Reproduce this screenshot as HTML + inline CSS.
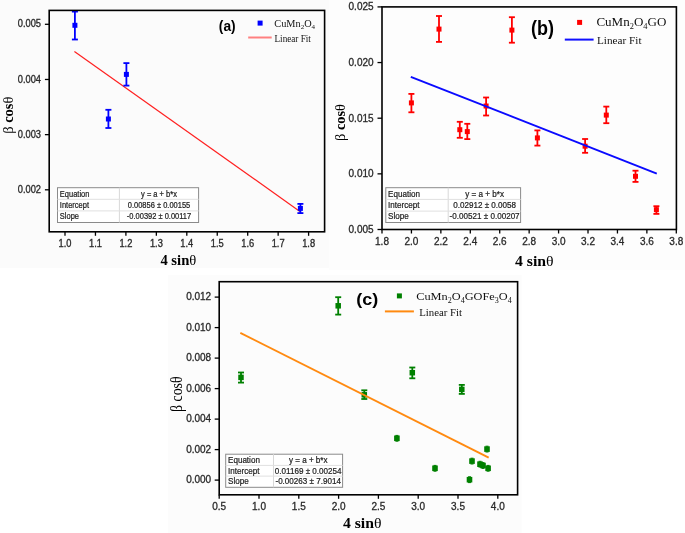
<!DOCTYPE html>
<html><head><meta charset="utf-8"><style>
html,body{margin:0;padding:0;background:#fff;}
body{width:685px;height:533px;overflow:hidden;}
svg{display:block;will-change:transform;}
</style></head><body>
<svg width="685" height="533" viewBox="0 0 685 533">
<rect x="0" y="0" width="685" height="533" fill="#ffffff"/>
<rect x="0" y="0" width="329" height="268" fill="#fbfbfb"/>
<rect x="329" y="0" width="356" height="270" fill="#fdfdfd"/>
<rect x="168" y="275" width="353.5" height="258" fill="#fcfcfc"/>
<line x1="65" y1="231.8" x2="65" y2="235.8" stroke="#000" stroke-width="1.3"/>
<text transform="translate(65,246.7) scale(1,1.12)" x="0" y="0" font-family='"Liberation Sans", sans-serif' font-size="9.3" font-weight="normal" fill="#2a2a2a" text-anchor="middle" stroke="#2a2a2a" stroke-width="0.3">1.0</text>
<line x1="95.45" y1="231.8" x2="95.45" y2="235.8" stroke="#000" stroke-width="1.3"/>
<text transform="translate(95.45,246.7) scale(1,1.12)" x="0" y="0" font-family='"Liberation Sans", sans-serif' font-size="9.3" font-weight="normal" fill="#2a2a2a" text-anchor="middle" stroke="#2a2a2a" stroke-width="0.3">1.1</text>
<line x1="125.9" y1="231.8" x2="125.9" y2="235.8" stroke="#000" stroke-width="1.3"/>
<text transform="translate(125.9,246.7) scale(1,1.12)" x="0" y="0" font-family='"Liberation Sans", sans-serif' font-size="9.3" font-weight="normal" fill="#2a2a2a" text-anchor="middle" stroke="#2a2a2a" stroke-width="0.3">1.2</text>
<line x1="156.35" y1="231.8" x2="156.35" y2="235.8" stroke="#000" stroke-width="1.3"/>
<text transform="translate(156.35,246.7) scale(1,1.12)" x="0" y="0" font-family='"Liberation Sans", sans-serif' font-size="9.3" font-weight="normal" fill="#2a2a2a" text-anchor="middle" stroke="#2a2a2a" stroke-width="0.3">1.3</text>
<line x1="186.8" y1="231.8" x2="186.8" y2="235.8" stroke="#000" stroke-width="1.3"/>
<text transform="translate(186.8,246.7) scale(1,1.12)" x="0" y="0" font-family='"Liberation Sans", sans-serif' font-size="9.3" font-weight="normal" fill="#2a2a2a" text-anchor="middle" stroke="#2a2a2a" stroke-width="0.3">1.4</text>
<line x1="217.25" y1="231.8" x2="217.25" y2="235.8" stroke="#000" stroke-width="1.3"/>
<text transform="translate(217.25,246.7) scale(1,1.12)" x="0" y="0" font-family='"Liberation Sans", sans-serif' font-size="9.3" font-weight="normal" fill="#2a2a2a" text-anchor="middle" stroke="#2a2a2a" stroke-width="0.3">1.5</text>
<line x1="247.7" y1="231.8" x2="247.7" y2="235.8" stroke="#000" stroke-width="1.3"/>
<text transform="translate(247.7,246.7) scale(1,1.12)" x="0" y="0" font-family='"Liberation Sans", sans-serif' font-size="9.3" font-weight="normal" fill="#2a2a2a" text-anchor="middle" stroke="#2a2a2a" stroke-width="0.3">1.6</text>
<line x1="278.15" y1="231.8" x2="278.15" y2="235.8" stroke="#000" stroke-width="1.3"/>
<text transform="translate(278.15,246.7) scale(1,1.12)" x="0" y="0" font-family='"Liberation Sans", sans-serif' font-size="9.3" font-weight="normal" fill="#2a2a2a" text-anchor="middle" stroke="#2a2a2a" stroke-width="0.3">1.7</text>
<line x1="308.6" y1="231.8" x2="308.6" y2="235.8" stroke="#000" stroke-width="1.3"/>
<text transform="translate(308.6,246.7) scale(1,1.12)" x="0" y="0" font-family='"Liberation Sans", sans-serif' font-size="9.3" font-weight="normal" fill="#2a2a2a" text-anchor="middle" stroke="#2a2a2a" stroke-width="0.3">1.8</text>
<line x1="44.9" y1="189.81" x2="49.2" y2="189.81" stroke="#000" stroke-width="1.3"/>
<text transform="translate(41,192.84) scale(1,1.12)" x="0" y="0" font-family='"Liberation Sans", sans-serif' font-size="9.3" font-weight="normal" fill="#2a2a2a" text-anchor="end" stroke="#2a2a2a" stroke-width="0.3">0.002</text>
<line x1="44.9" y1="134.64" x2="49.2" y2="134.64" stroke="#000" stroke-width="1.3"/>
<text transform="translate(41,137.67) scale(1,1.12)" x="0" y="0" font-family='"Liberation Sans", sans-serif' font-size="9.3" font-weight="normal" fill="#2a2a2a" text-anchor="end" stroke="#2a2a2a" stroke-width="0.3">0.003</text>
<line x1="44.9" y1="79.47" x2="49.2" y2="79.47" stroke="#000" stroke-width="1.3"/>
<text transform="translate(41,82.5) scale(1,1.12)" x="0" y="0" font-family='"Liberation Sans", sans-serif' font-size="9.3" font-weight="normal" fill="#2a2a2a" text-anchor="end" stroke="#2a2a2a" stroke-width="0.3">0.004</text>
<line x1="44.9" y1="24.3" x2="49.2" y2="24.3" stroke="#000" stroke-width="1.3"/>
<text transform="translate(41,27.33) scale(1,1.12)" x="0" y="0" font-family='"Liberation Sans", sans-serif' font-size="9.3" font-weight="normal" fill="#2a2a2a" text-anchor="end" stroke="#2a2a2a" stroke-width="0.3">0.005</text>
<rect x="57.5" y="187.7" width="141.1" height="34.8" fill="#fff" stroke="#8a8a8a" stroke-width="1"/>
<line x1="119.4" y1="187.7" x2="119.4" y2="222.5" stroke="#d8d8d8" stroke-width="1"/>
<line x1="57.5" y1="199.3" x2="198.6" y2="199.3" stroke="#e0e0e0" stroke-width="1"/>
<line x1="57.5" y1="210.9" x2="198.6" y2="210.9" stroke="#e0e0e0" stroke-width="1"/>
<text transform="translate(59.8,196.5) scale(1,1.15)" x="0" y="0" font-family='"Liberation Sans", sans-serif' font-size="7.5" font-weight="normal" fill="#222" text-anchor="start" stroke="#222" stroke-width="0.2">Equation</text>
<text transform="translate(159,196.5) scale(1,1.15)" x="0" y="0" font-family='"Liberation Sans", sans-serif' font-size="7.5" font-weight="normal" fill="#222" text-anchor="middle" stroke="#222" stroke-width="0.2">y = a + b*x</text>
<text transform="translate(59.8,208.05) scale(1,1.15)" x="0" y="0" font-family='"Liberation Sans", sans-serif' font-size="7.5" font-weight="normal" fill="#222" text-anchor="start" stroke="#222" stroke-width="0.2">Intercept</text>
<text transform="translate(159,208.05) scale(1,1.15)" x="0" y="0" font-family='"Liberation Sans", sans-serif' font-size="7.5" font-weight="normal" fill="#222" text-anchor="middle" stroke="#222" stroke-width="0.2">0.00856 ± 0.00155</text>
<text transform="translate(59.8,219.1) scale(1,1.15)" x="0" y="0" font-family='"Liberation Sans", sans-serif' font-size="7.5" font-weight="normal" fill="#222" text-anchor="start" stroke="#222" stroke-width="0.2">Slope</text>
<text transform="translate(159,219.1) scale(1,1.15)" x="0" y="0" font-family='"Liberation Sans", sans-serif' font-size="7.5" font-weight="normal" fill="#222" text-anchor="middle" stroke="#222" stroke-width="0.2">-0.00392 ± 0.00117</text>
<line x1="74.4" y1="51.4" x2="299.9" y2="211.4" stroke="#ff2020" stroke-width="1.2"/>
<line x1="74.9" y1="11.6" x2="74.9" y2="39.5" stroke="#0000ff" stroke-width="1.8"/>
<line x1="71.9" y1="11.6" x2="77.9" y2="11.6" stroke="#0000ff" stroke-width="1.8"/>
<line x1="71.9" y1="39.5" x2="77.9" y2="39.5" stroke="#0000ff" stroke-width="1.8"/>
<rect x="72.4" y="22.8" width="5" height="5" fill="#0000ff"/>
<line x1="108.4" y1="109.8" x2="108.4" y2="128" stroke="#0000ff" stroke-width="1.8"/>
<line x1="105.4" y1="109.8" x2="111.4" y2="109.8" stroke="#0000ff" stroke-width="1.8"/>
<line x1="105.4" y1="128" x2="111.4" y2="128" stroke="#0000ff" stroke-width="1.8"/>
<rect x="105.9" y="116.5" width="5" height="5" fill="#0000ff"/>
<line x1="126.4" y1="63.1" x2="126.4" y2="85.6" stroke="#0000ff" stroke-width="1.8"/>
<line x1="123.4" y1="63.1" x2="129.4" y2="63.1" stroke="#0000ff" stroke-width="1.8"/>
<line x1="123.4" y1="85.6" x2="129.4" y2="85.6" stroke="#0000ff" stroke-width="1.8"/>
<rect x="123.9" y="71.9" width="5" height="5" fill="#0000ff"/>
<line x1="300.4" y1="203.9" x2="300.4" y2="213.1" stroke="#0000ff" stroke-width="1.8"/>
<line x1="297.4" y1="203.9" x2="303.4" y2="203.9" stroke="#0000ff" stroke-width="1.8"/>
<line x1="297.4" y1="213.1" x2="303.4" y2="213.1" stroke="#0000ff" stroke-width="1.8"/>
<rect x="297.9" y="205.9" width="5" height="5" fill="#0000ff"/>
<rect x="49.2" y="10.4" width="275.4" height="221.4" fill="none" stroke="#000" stroke-width="1.6"/>
<text transform="translate(218.8,31) scale(1,1.15)" x="0" y="0" font-family='"Liberation Sans", sans-serif' font-size="12.5" font-weight="bold" fill="#000" text-anchor="start" textLength="16.8" lengthAdjust="spacingAndGlyphs">(a)</text>
<rect x="257.6" y="20.6" width="5" height="5" fill="#0000ff"/>
<text x="274.3" y="26.6" font-family='"Liberation Serif", serif' font-size="10.3" font-weight="normal" fill="#111" text-anchor="start">CuMn<tspan font-size="7" dy="2.6">2</tspan><tspan dy="-2.6">O</tspan><tspan font-size="7" dy="2.6">4</tspan></text>
<line x1="248.2" y1="37.5" x2="271.7" y2="37.5" stroke="#ff8080" stroke-width="2"/>
<text x="274.5" y="41.5" font-family='"Liberation Serif", serif' font-size="9.7" font-weight="normal" fill="#111" text-anchor="start" textLength="36.4" lengthAdjust="spacingAndGlyphs">Linear Fit</text>
<text transform="translate(13,115.2) rotate(-90)" x="0" y="0" font-family='"Liberation Serif", serif' font-size="14" font-weight="bold" fill="#000" text-anchor="middle" textLength="37.3" lengthAdjust="spacingAndGlyphs"><tspan font-weight="normal">β</tspan> cos<tspan font-weight="normal">θ</tspan></text>
<text x="160.4" y="265.2" font-family='"Liberation Serif", serif' font-size="14" font-weight="bold" fill="#000" text-anchor="start" textLength="35.9" lengthAdjust="spacingAndGlyphs">4 sin<tspan font-weight="normal">θ</tspan></text>
<line x1="382" y1="229.5" x2="382" y2="233.5" stroke="#000" stroke-width="1.3"/>
<text x="382" y="244.6" font-family='"Liberation Sans", sans-serif' font-size="10" font-weight="normal" fill="#2a2a2a" text-anchor="middle" stroke="#2a2a2a" stroke-width="0.3">1.8</text>
<line x1="411.43" y1="229.5" x2="411.43" y2="233.5" stroke="#000" stroke-width="1.3"/>
<text x="411.43" y="244.6" font-family='"Liberation Sans", sans-serif' font-size="10" font-weight="normal" fill="#2a2a2a" text-anchor="middle" stroke="#2a2a2a" stroke-width="0.3">2.0</text>
<line x1="440.86" y1="229.5" x2="440.86" y2="233.5" stroke="#000" stroke-width="1.3"/>
<text x="440.86" y="244.6" font-family='"Liberation Sans", sans-serif' font-size="10" font-weight="normal" fill="#2a2a2a" text-anchor="middle" stroke="#2a2a2a" stroke-width="0.3">2.2</text>
<line x1="470.29" y1="229.5" x2="470.29" y2="233.5" stroke="#000" stroke-width="1.3"/>
<text x="470.29" y="244.6" font-family='"Liberation Sans", sans-serif' font-size="10" font-weight="normal" fill="#2a2a2a" text-anchor="middle" stroke="#2a2a2a" stroke-width="0.3">2.4</text>
<line x1="499.72" y1="229.5" x2="499.72" y2="233.5" stroke="#000" stroke-width="1.3"/>
<text x="499.72" y="244.6" font-family='"Liberation Sans", sans-serif' font-size="10" font-weight="normal" fill="#2a2a2a" text-anchor="middle" stroke="#2a2a2a" stroke-width="0.3">2.6</text>
<line x1="529.15" y1="229.5" x2="529.15" y2="233.5" stroke="#000" stroke-width="1.3"/>
<text x="529.15" y="244.6" font-family='"Liberation Sans", sans-serif' font-size="10" font-weight="normal" fill="#2a2a2a" text-anchor="middle" stroke="#2a2a2a" stroke-width="0.3">2.8</text>
<line x1="558.58" y1="229.5" x2="558.58" y2="233.5" stroke="#000" stroke-width="1.3"/>
<text x="558.58" y="244.6" font-family='"Liberation Sans", sans-serif' font-size="10" font-weight="normal" fill="#2a2a2a" text-anchor="middle" stroke="#2a2a2a" stroke-width="0.3">3.0</text>
<line x1="588.01" y1="229.5" x2="588.01" y2="233.5" stroke="#000" stroke-width="1.3"/>
<text x="588.01" y="244.6" font-family='"Liberation Sans", sans-serif' font-size="10" font-weight="normal" fill="#2a2a2a" text-anchor="middle" stroke="#2a2a2a" stroke-width="0.3">3.2</text>
<line x1="617.44" y1="229.5" x2="617.44" y2="233.5" stroke="#000" stroke-width="1.3"/>
<text x="617.44" y="244.6" font-family='"Liberation Sans", sans-serif' font-size="10" font-weight="normal" fill="#2a2a2a" text-anchor="middle" stroke="#2a2a2a" stroke-width="0.3">3.4</text>
<line x1="646.87" y1="229.5" x2="646.87" y2="233.5" stroke="#000" stroke-width="1.3"/>
<text x="646.87" y="244.6" font-family='"Liberation Sans", sans-serif' font-size="10" font-weight="normal" fill="#2a2a2a" text-anchor="middle" stroke="#2a2a2a" stroke-width="0.3">3.6</text>
<line x1="676.3" y1="229.5" x2="676.3" y2="233.5" stroke="#000" stroke-width="1.3"/>
<text x="676.3" y="244.6" font-family='"Liberation Sans", sans-serif' font-size="10" font-weight="normal" fill="#2a2a2a" text-anchor="middle" stroke="#2a2a2a" stroke-width="0.3">3.8</text>
<line x1="377.5" y1="229.5" x2="382" y2="229.5" stroke="#000" stroke-width="1.3"/>
<text x="373.6" y="233.08" font-family='"Liberation Sans", sans-serif' font-size="10" font-weight="normal" fill="#2a2a2a" text-anchor="end" stroke="#2a2a2a" stroke-width="0.3">0.005</text>
<line x1="377.5" y1="173.85" x2="382" y2="173.85" stroke="#000" stroke-width="1.3"/>
<text x="373.6" y="177.43" font-family='"Liberation Sans", sans-serif' font-size="10" font-weight="normal" fill="#2a2a2a" text-anchor="end" stroke="#2a2a2a" stroke-width="0.3">0.010</text>
<line x1="377.5" y1="118.2" x2="382" y2="118.2" stroke="#000" stroke-width="1.3"/>
<text x="373.6" y="121.78" font-family='"Liberation Sans", sans-serif' font-size="10" font-weight="normal" fill="#2a2a2a" text-anchor="end" stroke="#2a2a2a" stroke-width="0.3">0.015</text>
<line x1="377.5" y1="62.55" x2="382" y2="62.55" stroke="#000" stroke-width="1.3"/>
<text x="373.6" y="66.13" font-family='"Liberation Sans", sans-serif' font-size="10" font-weight="normal" fill="#2a2a2a" text-anchor="end" stroke="#2a2a2a" stroke-width="0.3">0.020</text>
<line x1="377.5" y1="6.9" x2="382" y2="6.9" stroke="#000" stroke-width="1.3"/>
<text x="373.6" y="10.48" font-family='"Liberation Sans", sans-serif' font-size="10" font-weight="normal" fill="#2a2a2a" text-anchor="end" stroke="#2a2a2a" stroke-width="0.3">0.025</text>
<rect x="385.8" y="187.7" width="134.8" height="34.8" fill="#fff" stroke="#8a8a8a" stroke-width="1"/>
<line x1="448.2" y1="187.7" x2="448.2" y2="222.5" stroke="#d8d8d8" stroke-width="1"/>
<line x1="385.8" y1="199.4" x2="520.6" y2="199.4" stroke="#e0e0e0" stroke-width="1"/>
<line x1="385.8" y1="211.1" x2="520.6" y2="211.1" stroke="#e0e0e0" stroke-width="1"/>
<text transform="translate(388.1,196.55) scale(1,1.12)" x="0" y="0" font-family='"Liberation Sans", sans-serif' font-size="8.1" font-weight="normal" fill="#222" text-anchor="start" stroke="#222" stroke-width="0.2">Equation</text>
<text transform="translate(484.6,196.55) scale(1,1.12)" x="0" y="0" font-family='"Liberation Sans", sans-serif' font-size="8.1" font-weight="normal" fill="#222" text-anchor="middle" stroke="#222" stroke-width="0.2">y = a + b*x</text>
<text transform="translate(388.1,208.2) scale(1,1.12)" x="0" y="0" font-family='"Liberation Sans", sans-serif' font-size="8.1" font-weight="normal" fill="#222" text-anchor="start" stroke="#222" stroke-width="0.2">Intercept</text>
<text transform="translate(484.6,208.2) scale(1,1.12)" x="0" y="0" font-family='"Liberation Sans", sans-serif' font-size="8.1" font-weight="normal" fill="#222" text-anchor="middle" stroke="#222" stroke-width="0.2">0.02912 ± 0.0058</text>
<text transform="translate(388.1,219.2) scale(1,1.12)" x="0" y="0" font-family='"Liberation Sans", sans-serif' font-size="8.1" font-weight="normal" fill="#222" text-anchor="start" stroke="#222" stroke-width="0.2">Slope</text>
<text transform="translate(484.6,219.2) scale(1,1.12)" x="0" y="0" font-family='"Liberation Sans", sans-serif' font-size="8.1" font-weight="normal" fill="#222" text-anchor="middle" stroke="#222" stroke-width="0.2">-0.00521 ± 0.00207</text>
<line x1="411.4" y1="93.9" x2="411.4" y2="112.3" stroke="#ff0000" stroke-width="1.8"/>
<line x1="408.4" y1="93.9" x2="414.4" y2="93.9" stroke="#ff0000" stroke-width="1.8"/>
<line x1="408.4" y1="112.3" x2="414.4" y2="112.3" stroke="#ff0000" stroke-width="1.8"/>
<rect x="408.9" y="100.4" width="5" height="5" fill="#ff0000"/>
<line x1="439" y1="16" x2="439" y2="41.9" stroke="#ff0000" stroke-width="1.8"/>
<line x1="436" y1="16" x2="442" y2="16" stroke="#ff0000" stroke-width="1.8"/>
<line x1="436" y1="41.9" x2="442" y2="41.9" stroke="#ff0000" stroke-width="1.8"/>
<rect x="436.5" y="26.6" width="5" height="5" fill="#ff0000"/>
<line x1="459.8" y1="121.8" x2="459.8" y2="137.8" stroke="#ff0000" stroke-width="1.8"/>
<line x1="456.8" y1="121.8" x2="462.8" y2="121.8" stroke="#ff0000" stroke-width="1.8"/>
<line x1="456.8" y1="137.8" x2="462.8" y2="137.8" stroke="#ff0000" stroke-width="1.8"/>
<rect x="457.3" y="127.2" width="5" height="5" fill="#ff0000"/>
<line x1="467.3" y1="123.8" x2="467.3" y2="139.1" stroke="#ff0000" stroke-width="1.8"/>
<line x1="464.3" y1="123.8" x2="470.3" y2="123.8" stroke="#ff0000" stroke-width="1.8"/>
<line x1="464.3" y1="139.1" x2="470.3" y2="139.1" stroke="#ff0000" stroke-width="1.8"/>
<rect x="464.8" y="129.1" width="5" height="5" fill="#ff0000"/>
<line x1="486.1" y1="97.5" x2="486.1" y2="115.5" stroke="#ff0000" stroke-width="1.8"/>
<line x1="483.1" y1="97.5" x2="489.1" y2="97.5" stroke="#ff0000" stroke-width="1.8"/>
<line x1="483.1" y1="115.5" x2="489.1" y2="115.5" stroke="#ff0000" stroke-width="1.8"/>
<rect x="483.6" y="103.5" width="5" height="5" fill="#ff0000"/>
<line x1="511.9" y1="17.2" x2="511.9" y2="42.7" stroke="#ff0000" stroke-width="1.8"/>
<line x1="508.9" y1="17.2" x2="514.9" y2="17.2" stroke="#ff0000" stroke-width="1.8"/>
<line x1="508.9" y1="42.7" x2="514.9" y2="42.7" stroke="#ff0000" stroke-width="1.8"/>
<rect x="509.4" y="27.6" width="5" height="5" fill="#ff0000"/>
<line x1="537.4" y1="130.4" x2="537.4" y2="145.6" stroke="#ff0000" stroke-width="1.8"/>
<line x1="534.4" y1="130.4" x2="540.4" y2="130.4" stroke="#ff0000" stroke-width="1.8"/>
<line x1="534.4" y1="145.6" x2="540.4" y2="145.6" stroke="#ff0000" stroke-width="1.8"/>
<rect x="534.9" y="135.4" width="5" height="5" fill="#ff0000"/>
<line x1="585.1" y1="139" x2="585.1" y2="152.8" stroke="#ff0000" stroke-width="1.8"/>
<line x1="582.1" y1="139" x2="588.1" y2="139" stroke="#ff0000" stroke-width="1.8"/>
<line x1="582.1" y1="152.8" x2="588.1" y2="152.8" stroke="#ff0000" stroke-width="1.8"/>
<rect x="582.6" y="143.7" width="5" height="5" fill="#ff0000"/>
<line x1="606.3" y1="106.6" x2="606.3" y2="123.2" stroke="#ff0000" stroke-width="1.8"/>
<line x1="603.3" y1="106.6" x2="609.3" y2="106.6" stroke="#ff0000" stroke-width="1.8"/>
<line x1="603.3" y1="123.2" x2="609.3" y2="123.2" stroke="#ff0000" stroke-width="1.8"/>
<rect x="603.8" y="112.6" width="5" height="5" fill="#ff0000"/>
<line x1="635.5" y1="170.7" x2="635.5" y2="181.9" stroke="#ff0000" stroke-width="1.8"/>
<line x1="632.5" y1="170.7" x2="638.5" y2="170.7" stroke="#ff0000" stroke-width="1.8"/>
<line x1="632.5" y1="181.9" x2="638.5" y2="181.9" stroke="#ff0000" stroke-width="1.8"/>
<rect x="633" y="173.8" width="5" height="5" fill="#ff0000"/>
<line x1="656.4" y1="206.2" x2="656.4" y2="213.9" stroke="#ff0000" stroke-width="1.8"/>
<line x1="653.4" y1="206.2" x2="659.4" y2="206.2" stroke="#ff0000" stroke-width="1.8"/>
<line x1="653.4" y1="213.9" x2="659.4" y2="213.9" stroke="#ff0000" stroke-width="1.8"/>
<rect x="653.9" y="207.2" width="5" height="5" fill="#ff0000"/>
<line x1="410.8" y1="76.8" x2="656.8" y2="173.6" stroke="#0a0aff" stroke-width="1.9"/>
<rect x="382" y="6.9" width="294.4" height="222.6" fill="none" stroke="#000" stroke-width="1.6"/>
<text transform="translate(531,34.5) scale(1,1.19)" x="0" y="0" font-family='"Liberation Sans", sans-serif' font-size="17" font-weight="bold" fill="#000" text-anchor="start" textLength="23" lengthAdjust="spacingAndGlyphs">(b)</text>
<rect x="577.1" y="19.9" width="5" height="5" fill="#ff0000"/>
<text x="596.4" y="26.2" font-family='"Liberation Serif", serif' font-size="11.8" font-weight="normal" fill="#111" text-anchor="start" textLength="70" lengthAdjust="spacingAndGlyphs">CuMn<tspan font-size="7.6" dy="3.2">2</tspan><tspan dy="-3.2">O</tspan><tspan font-size="7.6" dy="3.2">4</tspan><tspan dy="-3.2">GO</tspan></text>
<line x1="564.8" y1="39.6" x2="593.6" y2="39.6" stroke="#1010ff" stroke-width="2"/>
<text x="597" y="43.5" font-family='"Liberation Serif", serif' font-size="11.2" font-weight="normal" fill="#111" text-anchor="start" textLength="44.5" lengthAdjust="spacingAndGlyphs">Linear Fit</text>
<text transform="translate(345.2,122.5) rotate(-90)" x="0" y="0" font-family='"Liberation Serif", serif' font-size="14" font-weight="bold" fill="#000" text-anchor="middle" textLength="36.9" lengthAdjust="spacingAndGlyphs"><tspan font-weight="normal">β</tspan> cos<tspan font-weight="normal">θ</tspan></text>
<text x="515" y="265.6" font-family='"Liberation Serif", serif' font-size="14.5" font-weight="bold" fill="#000" text-anchor="start" textLength="38.7" lengthAdjust="spacingAndGlyphs">4 sin<tspan font-weight="normal">θ</tspan></text>
<line x1="219.2" y1="494.8" x2="219.2" y2="498.8" stroke="#000" stroke-width="1.3"/>
<text x="219.2" y="509.6" font-family='"Liberation Sans", sans-serif' font-size="10" font-weight="normal" fill="#2a2a2a" text-anchor="middle" stroke="#2a2a2a" stroke-width="0.3">0.5</text>
<line x1="259" y1="494.8" x2="259" y2="498.8" stroke="#000" stroke-width="1.3"/>
<text x="259" y="509.6" font-family='"Liberation Sans", sans-serif' font-size="10" font-weight="normal" fill="#2a2a2a" text-anchor="middle" stroke="#2a2a2a" stroke-width="0.3">1.0</text>
<line x1="298.8" y1="494.8" x2="298.8" y2="498.8" stroke="#000" stroke-width="1.3"/>
<text x="298.8" y="509.6" font-family='"Liberation Sans", sans-serif' font-size="10" font-weight="normal" fill="#2a2a2a" text-anchor="middle" stroke="#2a2a2a" stroke-width="0.3">1.5</text>
<line x1="338.6" y1="494.8" x2="338.6" y2="498.8" stroke="#000" stroke-width="1.3"/>
<text x="338.6" y="509.6" font-family='"Liberation Sans", sans-serif' font-size="10" font-weight="normal" fill="#2a2a2a" text-anchor="middle" stroke="#2a2a2a" stroke-width="0.3">2.0</text>
<line x1="378.4" y1="494.8" x2="378.4" y2="498.8" stroke="#000" stroke-width="1.3"/>
<text x="378.4" y="509.6" font-family='"Liberation Sans", sans-serif' font-size="10" font-weight="normal" fill="#2a2a2a" text-anchor="middle" stroke="#2a2a2a" stroke-width="0.3">2.5</text>
<line x1="418.2" y1="494.8" x2="418.2" y2="498.8" stroke="#000" stroke-width="1.3"/>
<text x="418.2" y="509.6" font-family='"Liberation Sans", sans-serif' font-size="10" font-weight="normal" fill="#2a2a2a" text-anchor="middle" stroke="#2a2a2a" stroke-width="0.3">3.0</text>
<line x1="458" y1="494.8" x2="458" y2="498.8" stroke="#000" stroke-width="1.3"/>
<text x="458" y="509.6" font-family='"Liberation Sans", sans-serif' font-size="10" font-weight="normal" fill="#2a2a2a" text-anchor="middle" stroke="#2a2a2a" stroke-width="0.3">3.5</text>
<line x1="497.8" y1="494.8" x2="497.8" y2="498.8" stroke="#000" stroke-width="1.3"/>
<text x="497.8" y="509.6" font-family='"Liberation Sans", sans-serif' font-size="10" font-weight="normal" fill="#2a2a2a" text-anchor="middle" stroke="#2a2a2a" stroke-width="0.3">4.0</text>
<line x1="214.7" y1="480.1" x2="219.2" y2="480.1" stroke="#000" stroke-width="1.3"/>
<text x="211.2" y="483.28" font-family='"Liberation Sans", sans-serif' font-size="10" font-weight="normal" fill="#2a2a2a" text-anchor="end" stroke="#2a2a2a" stroke-width="0.3">0.000</text>
<line x1="214.7" y1="449.6" x2="219.2" y2="449.6" stroke="#000" stroke-width="1.3"/>
<text x="211.2" y="452.78" font-family='"Liberation Sans", sans-serif' font-size="10" font-weight="normal" fill="#2a2a2a" text-anchor="end" stroke="#2a2a2a" stroke-width="0.3">0.002</text>
<line x1="214.7" y1="419.1" x2="219.2" y2="419.1" stroke="#000" stroke-width="1.3"/>
<text x="211.2" y="422.28" font-family='"Liberation Sans", sans-serif' font-size="10" font-weight="normal" fill="#2a2a2a" text-anchor="end" stroke="#2a2a2a" stroke-width="0.3">0.004</text>
<line x1="214.7" y1="388.6" x2="219.2" y2="388.6" stroke="#000" stroke-width="1.3"/>
<text x="211.2" y="391.78" font-family='"Liberation Sans", sans-serif' font-size="10" font-weight="normal" fill="#2a2a2a" text-anchor="end" stroke="#2a2a2a" stroke-width="0.3">0.006</text>
<line x1="214.7" y1="358.1" x2="219.2" y2="358.1" stroke="#000" stroke-width="1.3"/>
<text x="211.2" y="361.28" font-family='"Liberation Sans", sans-serif' font-size="10" font-weight="normal" fill="#2a2a2a" text-anchor="end" stroke="#2a2a2a" stroke-width="0.3">0.008</text>
<line x1="214.7" y1="327.6" x2="219.2" y2="327.6" stroke="#000" stroke-width="1.3"/>
<text x="211.2" y="330.78" font-family='"Liberation Sans", sans-serif' font-size="10" font-weight="normal" fill="#2a2a2a" text-anchor="end" stroke="#2a2a2a" stroke-width="0.3">0.010</text>
<line x1="214.7" y1="297.1" x2="219.2" y2="297.1" stroke="#000" stroke-width="1.3"/>
<text x="211.2" y="300.28" font-family='"Liberation Sans", sans-serif' font-size="10" font-weight="normal" fill="#2a2a2a" text-anchor="end" stroke="#2a2a2a" stroke-width="0.3">0.012</text>
<rect x="225.7" y="454.2" width="116.9" height="33.1" fill="#fff" stroke="#8a8a8a" stroke-width="1"/>
<line x1="273.5" y1="454.2" x2="273.5" y2="487.3" stroke="#d8d8d8" stroke-width="1"/>
<line x1="225.7" y1="465.4" x2="342.6" y2="465.4" stroke="#e0e0e0" stroke-width="1"/>
<line x1="225.7" y1="476.1" x2="342.6" y2="476.1" stroke="#e0e0e0" stroke-width="1"/>
<text transform="translate(228,462.8) scale(1,1.12)" x="0" y="0" font-family='"Liberation Sans", sans-serif' font-size="8.1" font-weight="normal" fill="#222" text-anchor="start" stroke="#222" stroke-width="0.2">Equation</text>
<text transform="translate(308.2,462.8) scale(1,1.12)" x="0" y="0" font-family='"Liberation Sans", sans-serif' font-size="8.1" font-weight="normal" fill="#222" text-anchor="middle" stroke="#222" stroke-width="0.2">y = a + b*x</text>
<text transform="translate(228,473.7) scale(1,1.12)" x="0" y="0" font-family='"Liberation Sans", sans-serif' font-size="8.1" font-weight="normal" fill="#222" text-anchor="start" stroke="#222" stroke-width="0.2">Intercept</text>
<text transform="translate(308.2,473.7) scale(1,1.12)" x="0" y="0" font-family='"Liberation Sans", sans-serif' font-size="8.1" font-weight="normal" fill="#222" text-anchor="middle" stroke="#222" stroke-width="0.2">0.01169 ± 0.00254</text>
<text transform="translate(228,484.1) scale(1,1.12)" x="0" y="0" font-family='"Liberation Sans", sans-serif' font-size="8.1" font-weight="normal" fill="#222" text-anchor="start" stroke="#222" stroke-width="0.2">Slope</text>
<text transform="translate(308.2,484.1) scale(1,1.12)" x="0" y="0" font-family='"Liberation Sans", sans-serif' font-size="8.1" font-weight="normal" fill="#222" text-anchor="middle" stroke="#222" stroke-width="0.2">-0.00263 ± 7.9014</text>
<line x1="241" y1="372.5" x2="241" y2="382.6" stroke="#008000" stroke-width="1.8"/>
<line x1="238" y1="372.5" x2="244" y2="372.5" stroke="#008000" stroke-width="1.8"/>
<line x1="238" y1="382.6" x2="244" y2="382.6" stroke="#008000" stroke-width="1.8"/>
<rect x="238.25" y="374.65" width="5.5" height="5.5" fill="#008000"/>
<line x1="338.2" y1="297.2" x2="338.2" y2="314.6" stroke="#008000" stroke-width="1.8"/>
<line x1="335.2" y1="297.2" x2="341.2" y2="297.2" stroke="#008000" stroke-width="1.8"/>
<line x1="335.2" y1="314.6" x2="341.2" y2="314.6" stroke="#008000" stroke-width="1.8"/>
<rect x="335.45" y="303.05" width="5.5" height="5.5" fill="#008000"/>
<line x1="364.3" y1="390.3" x2="364.3" y2="399" stroke="#008000" stroke-width="1.8"/>
<line x1="361.3" y1="390.3" x2="367.3" y2="390.3" stroke="#008000" stroke-width="1.8"/>
<line x1="361.3" y1="399" x2="367.3" y2="399" stroke="#008000" stroke-width="1.8"/>
<rect x="361.55" y="392.05" width="5.5" height="5.5" fill="#008000"/>
<line x1="412.3" y1="367.5" x2="412.3" y2="378.3" stroke="#008000" stroke-width="1.8"/>
<line x1="409.3" y1="367.5" x2="415.3" y2="367.5" stroke="#008000" stroke-width="1.8"/>
<line x1="409.3" y1="378.3" x2="415.3" y2="378.3" stroke="#008000" stroke-width="1.8"/>
<rect x="409.55" y="369.95" width="5.5" height="5.5" fill="#008000"/>
<line x1="461.8" y1="384.9" x2="461.8" y2="393.9" stroke="#008000" stroke-width="1.8"/>
<line x1="458.8" y1="384.9" x2="464.8" y2="384.9" stroke="#008000" stroke-width="1.8"/>
<line x1="458.8" y1="393.9" x2="464.8" y2="393.9" stroke="#008000" stroke-width="1.8"/>
<rect x="459.05" y="386.65" width="5.5" height="5.5" fill="#008000"/>
<line x1="396.9" y1="435.4" x2="396.9" y2="441.2" stroke="#008000" stroke-width="1.0"/>
<line x1="395.4" y1="435.4" x2="398.4" y2="435.4" stroke="#008000" stroke-width="1.0"/>
<line x1="395.4" y1="441.2" x2="398.4" y2="441.2" stroke="#008000" stroke-width="1.0"/>
<rect x="394.1" y="435.5" width="5.6" height="5.6" fill="#008000"/>
<line x1="435" y1="465.4" x2="435" y2="471.2" stroke="#008000" stroke-width="1.0"/>
<line x1="433.5" y1="465.4" x2="436.5" y2="465.4" stroke="#008000" stroke-width="1.0"/>
<line x1="433.5" y1="471.2" x2="436.5" y2="471.2" stroke="#008000" stroke-width="1.0"/>
<rect x="432.2" y="465.5" width="5.6" height="5.6" fill="#008000"/>
<line x1="487" y1="446.2" x2="487" y2="452" stroke="#008000" stroke-width="1.0"/>
<line x1="485.5" y1="446.2" x2="488.5" y2="446.2" stroke="#008000" stroke-width="1.0"/>
<line x1="485.5" y1="452" x2="488.5" y2="452" stroke="#008000" stroke-width="1.0"/>
<rect x="484.2" y="446.3" width="5.6" height="5.6" fill="#008000"/>
<line x1="472" y1="458.2" x2="472" y2="464" stroke="#008000" stroke-width="1.0"/>
<line x1="470.5" y1="458.2" x2="473.5" y2="458.2" stroke="#008000" stroke-width="1.0"/>
<line x1="470.5" y1="464" x2="473.5" y2="464" stroke="#008000" stroke-width="1.0"/>
<rect x="469.2" y="458.3" width="5.6" height="5.6" fill="#008000"/>
<line x1="480" y1="461.3" x2="480" y2="467.1" stroke="#008000" stroke-width="1.0"/>
<line x1="478.5" y1="461.3" x2="481.5" y2="461.3" stroke="#008000" stroke-width="1.0"/>
<line x1="478.5" y1="467.1" x2="481.5" y2="467.1" stroke="#008000" stroke-width="1.0"/>
<rect x="477.2" y="461.4" width="5.6" height="5.6" fill="#008000"/>
<line x1="483" y1="462.6" x2="483" y2="468.4" stroke="#008000" stroke-width="1.0"/>
<line x1="481.5" y1="462.6" x2="484.5" y2="462.6" stroke="#008000" stroke-width="1.0"/>
<line x1="481.5" y1="468.4" x2="484.5" y2="468.4" stroke="#008000" stroke-width="1.0"/>
<rect x="480.2" y="462.7" width="5.6" height="5.6" fill="#008000"/>
<line x1="488.1" y1="465.4" x2="488.1" y2="471.2" stroke="#008000" stroke-width="1.0"/>
<line x1="486.6" y1="465.4" x2="489.6" y2="465.4" stroke="#008000" stroke-width="1.0"/>
<line x1="486.6" y1="471.2" x2="489.6" y2="471.2" stroke="#008000" stroke-width="1.0"/>
<rect x="485.3" y="465.5" width="5.6" height="5.6" fill="#008000"/>
<line x1="469.5" y1="476.8" x2="469.5" y2="482.6" stroke="#008000" stroke-width="1.0"/>
<line x1="468" y1="476.8" x2="471" y2="476.8" stroke="#008000" stroke-width="1.0"/>
<line x1="468" y1="482.6" x2="471" y2="482.6" stroke="#008000" stroke-width="1.0"/>
<rect x="466.7" y="476.9" width="5.6" height="5.6" fill="#008000"/>
<line x1="240.3" y1="332.9" x2="488.7" y2="457.6" stroke="#ff8a10" stroke-width="1.9"/>
<rect x="219.2" y="281.7" width="298.4" height="213.1" fill="none" stroke="#000" stroke-width="1.6"/>
<text transform="translate(356.2,305.4) scale(1,1.1)" x="0" y="0" font-family='"Liberation Sans", sans-serif' font-size="15.5" font-weight="bold" fill="#000" text-anchor="start" textLength="22" lengthAdjust="spacingAndGlyphs">(c)</text>
<rect x="396.9" y="293.4" width="5" height="5" fill="#008000"/>
<text x="416.2" y="300.4" font-family='"Liberation Serif", serif' font-size="11.3" font-weight="normal" fill="#111" text-anchor="start" textLength="95.6" lengthAdjust="spacingAndGlyphs">CuMn<tspan font-size="7.4" dy="3.0">2</tspan><tspan dy="-3.0">O</tspan><tspan font-size="7.4" dy="3.0">4</tspan><tspan dy="-3.0">GOFe</tspan><tspan font-size="7.4" dy="3.0">3</tspan><tspan dy="-3.0">O</tspan><tspan font-size="7.4" dy="3.0">4</tspan></text>
<line x1="384.9" y1="311.4" x2="413.9" y2="311.4" stroke="#ff8a10" stroke-width="2"/>
<text x="419.2" y="315.5" font-family='"Liberation Serif", serif' font-size="10.8" font-weight="normal" fill="#111" text-anchor="start" textLength="42.9" lengthAdjust="spacingAndGlyphs">Linear Fit</text>
<text transform="translate(182.3,394.2) rotate(-90)" x="0" y="0" font-family='"Liberation Serif", serif' font-size="16" font-weight="normal" fill="#000" text-anchor="middle" textLength="35.5" lengthAdjust="spacingAndGlyphs"><tspan font-weight="normal">β</tspan> cos<tspan font-weight="normal">θ</tspan></text>
<text x="342.9" y="527.7" font-family='"Liberation Serif", serif' font-size="14.5" font-weight="bold" fill="#000" text-anchor="start" textLength="38.6" lengthAdjust="spacingAndGlyphs">4 sin<tspan font-weight="normal">θ</tspan></text>
</svg>
</body></html>
